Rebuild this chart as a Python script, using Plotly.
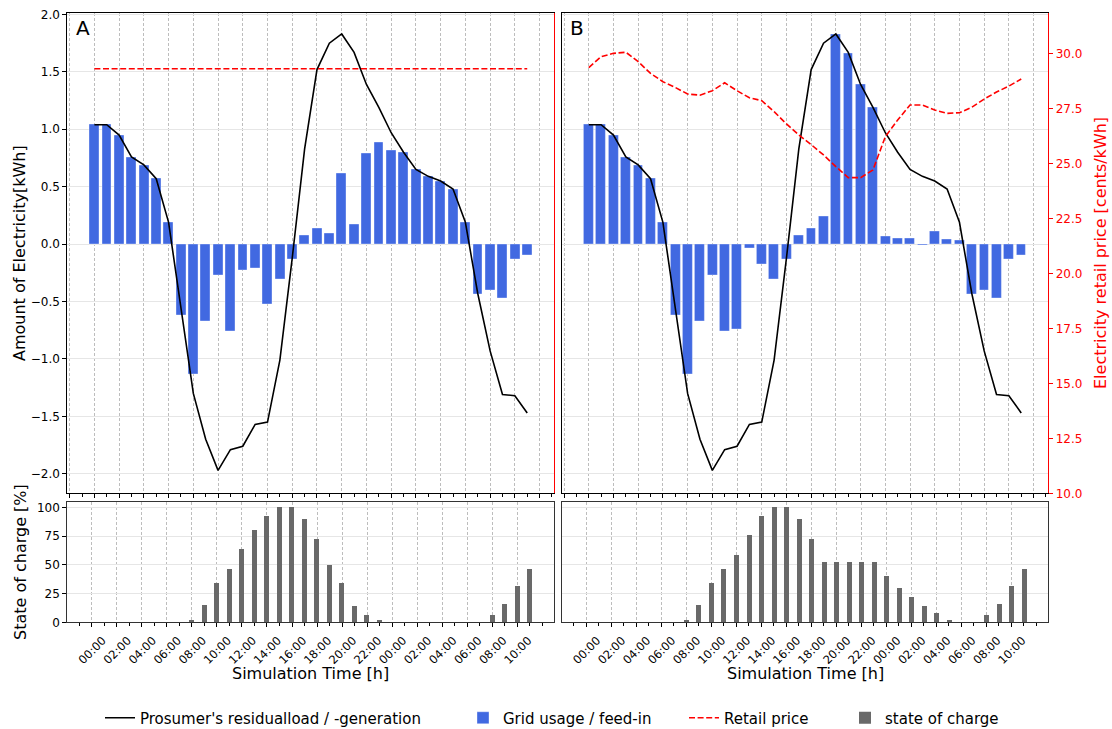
import plotly.graph_objects as go

# ---------------- data ----------------
hours = list(range(36))
tick_hours = [0, 2, 4, 6, 8, 10, 12, 14, 16, 18, 20, 22, 24, 26, 28, 30, 32, 34]
tick_labels = ["00:00", "02:00", "04:00", "06:00", "08:00", "10:00", "12:00", "14:00",
               "16:00", "18:00", "20:00", "22:00", "00:00", "02:00", "04:00", "06:00",
               "08:00", "10:00"]

residual_load = [1.04, 1.04, 0.95, 0.76, 0.69, 0.57, 0.19, -0.56, -1.30, -1.70,
                 -1.97, -1.79, -1.76, -1.57, -1.55, -1.01, -0.12, 0.83, 1.52, 1.75,
                 1.83, 1.67, 1.39, 1.19, 0.97, 0.80, 0.65, 0.59, 0.55, 0.48,
                 0.19, -0.43, -0.93, -1.31, -1.32, -1.47]

grid_a = [1.04, 1.04, 0.95, 0.76, 0.69, 0.57, 0.19, -0.62, -1.13, -0.67,
          -0.27, -0.76, -0.23, -0.21, -0.52, -0.31, -0.13, 0.08, 0.14, 0.09,
          0.62, 0.17, 0.79, 0.89, 0.82, 0.80, 0.65, 0.59, 0.55, 0.48,
          0.19, -0.44, -0.40, -0.47, -0.13, -0.10]

grid_b = [1.04, 1.04, 0.95, 0.76, 0.69, 0.57, 0.19, -0.62, -1.13, -0.67,
          -0.27, -0.76, -0.74, -0.04, -0.18, -0.31, -0.13, 0.08, 0.14, 0.24,
          1.83, 1.66, 1.39, 1.19, 0.07, 0.05, 0.05, -0.01, 0.11, 0.04,
          0.03, -0.44, -0.40, -0.47, -0.13, -0.10]

soc_a = [0, 0, 0, 0, 0, 0, 0, 0, 2, 15,
         34, 46, 64, 80, 92, 100, 100, 90, 72, 50,
         34, 14, 6, 2, 0, 0, 0, 0, 0, 0,
         0, 0, 6, 16, 31, 46]

soc_b = [0, 0, 0, 0, 0, 0, 0, 0, 2, 15,
         34, 46, 58, 76, 92, 100, 100, 90, 72, 52,
         52, 52, 52, 52, 40, 30, 22, 14, 8, 2,
         0, 0, 6, 16, 31, 46]

price_a = [29.3, 29.3, 29.3, 29.3, 29.3, 29.3, 29.3, 29.3, 29.3, 29.3,
           29.3, 29.3, 29.3, 29.3, 29.3, 29.3, 29.3, 29.3, 29.3, 29.3,
           29.3, 29.3, 29.3, 29.3, 29.3, 29.3, 29.3, 29.3, 29.3, 29.3,
           29.3, 29.3, 29.3, 29.3, 29.3, 29.3]

price_b = [29.35, 29.85, 30.00, 30.05, 29.62, 29.09, 28.71, 28.45, 28.15, 28.10,
           28.30, 28.66, 28.30, 27.98, 27.85, 27.35, 26.79, 26.29, 25.85, 25.38,
           24.85, 24.35, 24.35, 24.70, 26.21, 26.97, 27.65, 27.65, 27.42, 27.27,
           27.30, 27.55, 27.92, 28.24, 28.51, 28.83]

# ---------------- styling ----------------
W, H = 1112, 729
FONT = "DejaVu Sans"
BLUE = "#4169E1"
GRAY = "#696969"
RED = "#FF0000"
VGRID = "#bdbdbd"
HGRID = "#e6e6e6"


def px_x(p):
    return p / W


def px_y(p):
    return 1 - p / H


dom_xa = [px_x(67.3), px_x(554.3)]
dom_xb = [px_x(561.7), px_x(1048.3)]
dom_top = [px_y(493.3), px_y(13.3)]
dom_bot = [px_y(622.3), px_y(502.3)]

fig = go.Figure()

bar_edge = dict(width=0.6, color="rgba(255,255,255,0.6)")
# Panel A (top)
fig.add_trace(go.Bar(x=hours, y=grid_a, width=0.8, marker=dict(color=BLUE, line=bar_edge),
                     name="Grid usage / feed-in", xaxis="x", yaxis="y", legend="legend2"))
fig.add_trace(go.Scatter(x=hours, y=residual_load, mode="lines", line=dict(color="black", width=1.6),
                         name="Prosumer's residualload / -generation", xaxis="x", yaxis="y", legend="legend"))
fig.add_trace(go.Scatter(x=hours, y=price_a, mode="lines", line=dict(color=RED, width=1.6, dash="6px,2.6px"),
                         name="Retail price", xaxis="x", yaxis="y3", legend="legend3"))
# Panel B (top)
fig.add_trace(go.Bar(x=hours, y=grid_b, width=0.8, marker=dict(color=BLUE, line=bar_edge),
                     showlegend=False, xaxis="x2", yaxis="y2"))
fig.add_trace(go.Scatter(x=hours, y=residual_load, mode="lines", line=dict(color="black", width=1.6),
                         showlegend=False, xaxis="x2", yaxis="y2"))
fig.add_trace(go.Scatter(x=hours, y=price_b, mode="lines", line=dict(color=RED, width=1.6, dash="6px,2.6px"),
                         showlegend=False, xaxis="x2", yaxis="y4"))
# Bottom panels (state of charge)
fig.add_trace(go.Bar(x=hours, y=soc_a, width=0.4, marker=dict(color=GRAY),
                     name="state of charge", xaxis="x3", yaxis="y5", legend="legend4"))
fig.add_trace(go.Bar(x=hours, y=soc_b, width=0.4, marker=dict(color=GRAY),
                     showlegend=False, xaxis="x4", yaxis="y6"))

tickfont = dict(family=FONT, size=12, color="#000")

xtop_common = dict(range=[-2.19, 37.19], tick0=0, dtick=2, showgrid=True, gridcolor=VGRID,
                   griddash="3px,2px", gridwidth=0.8, zeroline=False, showticklabels=False,
                   ticks="outside", ticklen=4, tickcolor="#000", automargin=False,
                   minor=dict(dtick=1, tick0=0, ticks="outside", ticklen=2.5, tickcolor="#000", showgrid=False),
                   showline=True, linecolor="#000", linewidth=1, mirror=True)
xbot_common = dict(range=[-1.95, 36.95], tickmode="array", tickvals=tick_hours, ticktext=tick_labels,
                   tickangle=-45, tickfont=dict(family=FONT, size=11.5, color="#000"),
                   ticklabelshift=11, ticklabelstandoff=2,
                   showgrid=True, gridcolor=VGRID, griddash="3px,2px", gridwidth=0.8, zeroline=False,
                   ticks="outside", ticklen=4, tickcolor="#000", automargin=False,
                   minor=dict(dtick=1, tick0=0, ticks="outside", ticklen=2.5, tickcolor="#000", showgrid=False),
                   showline=True, linecolor="#333", linewidth=1, mirror=True)
ytop_common = dict(range=[-2.17, 2.01], tick0=0, dtick=0.5, showgrid=True, gridcolor=HGRID,
                   gridwidth=1.4, zeroline=False, showline=True, linecolor="#000", linewidth=1,
                   automargin=False)

legend_common = dict(y=px_y(718), xanchor="left", yanchor="middle", orientation="h",
                     font=dict(family=FONT, size=15, color="#000"), bgcolor="rgba(0,0,0,0)")

fig.update_layout(
    template="none",
    width=W, height=H,
    margin=dict(l=0, r=0, t=0, b=0, pad=0, autoexpand=False),
    paper_bgcolor="white", plot_bgcolor="white",
    font=dict(family=FONT, color="#000"),
    bargap=0,
    xaxis=dict(domain=dom_xa, anchor="y", **xtop_common),
    xaxis2=dict(domain=dom_xb, anchor="y2", **xtop_common),
    xaxis3=dict(domain=dom_xa, anchor="y5", **xbot_common),
    xaxis4=dict(domain=dom_xb, anchor="y6", **xbot_common),
    yaxis=dict(domain=dom_top, anchor="x", ticks="outside", ticklen=4, tickcolor="#000",
               tickformat=".1f", tickfont=tickfont, **ytop_common),
    yaxis2=dict(domain=dom_top, anchor="x2", ticks="", showticklabels=False, **ytop_common),
    yaxis3=dict(domain=dom_top, anchor="x", overlaying="y", side="right", range=[10, 31.82],
                showgrid=False, zeroline=False, showticklabels=False, ticks="", automargin=False,
                showline=True, linecolor=RED, linewidth=1),
    yaxis4=dict(domain=dom_top, anchor="x2", overlaying="y2", side="right", range=[10, 31.82],
                tick0=10, dtick=2.5, tickformat=".1f", showgrid=False, zeroline=False,
                ticks="outside", ticklen=4, tickcolor=RED, automargin=False,
                tickfont=dict(family=FONT, size=12, color=RED),
                showline=True, linecolor=RED, linewidth=1),
    yaxis5=dict(domain=dom_bot, anchor="x3", range=[0, 104.5], tick0=0, dtick=25,
                showgrid=True, gridcolor=HGRID, gridwidth=1.4, zeroline=False,
                ticks="outside", ticklen=4, tickcolor="#000", tickfont=tickfont, automargin=False,
                showline=True, linecolor="#333", linewidth=1, mirror=True),
    yaxis6=dict(domain=dom_bot, anchor="x4", range=[0, 104.5], tick0=0, dtick=25,
                showgrid=True, gridcolor=HGRID, gridwidth=1.4, zeroline=False,
                ticks="", showticklabels=False, automargin=False,
                showline=True, linecolor="#333", linewidth=1, mirror=True),
    legend=dict(x=px_x(100), **legend_common),
    legend2=dict(x=px_x(463), **legend_common),
    legend3=dict(x=px_x(684), **legend_common),
    legend4=dict(x=px_x(845), **legend_common),
)

annotations = [
    dict(text="A", x=px_x(74), y=px_y(28), xref="paper", yref="paper", xanchor="left", yanchor="middle",
         showarrow=False, font=dict(family=FONT, size=20, color="#000")),
    dict(text="B", x=px_x(568), y=px_y(28), xref="paper", yref="paper", xanchor="left", yanchor="middle",
         showarrow=False, font=dict(family=FONT, size=20, color="#000")),
    dict(text="Amount of Electricity[kWh]", x=px_x(20), y=px_y(253), xref="paper", yref="paper",
         textangle=-90, showarrow=False, xanchor="center", yanchor="middle",
         font=dict(family=FONT, size=16, color="#000")),
    dict(text="State of charge [%]", x=px_x(20), y=px_y(562), xref="paper", yref="paper",
         textangle=-90, showarrow=False, xanchor="center", yanchor="middle",
         font=dict(family=FONT, size=16, color="#000")),
    dict(text="Electricity retail price [cents/kWh]", x=px_x(1101), y=px_y(253), xref="paper", yref="paper",
         textangle=-90, showarrow=False, xanchor="center", yanchor="middle",
         font=dict(family=FONT, size=16, color=RED)),
    dict(text="Simulation Time [h]", x=px_x(310.8), y=px_y(673), xref="paper", yref="paper",
         showarrow=False, xanchor="center", yanchor="middle", font=dict(family=FONT, size=16, color="#000")),
    dict(text="Simulation Time [h]", x=px_x(805), y=px_y(673), xref="paper", yref="paper",
         showarrow=False, xanchor="center", yanchor="middle", font=dict(family=FONT, size=16, color="#000")),
]
fig.update_layout(annotations=annotations)

fig.write_html("out.html", config={"displayModeBar": False},
               post_script="document.body.style.margin='0';document.body.style.overflow='hidden';")
